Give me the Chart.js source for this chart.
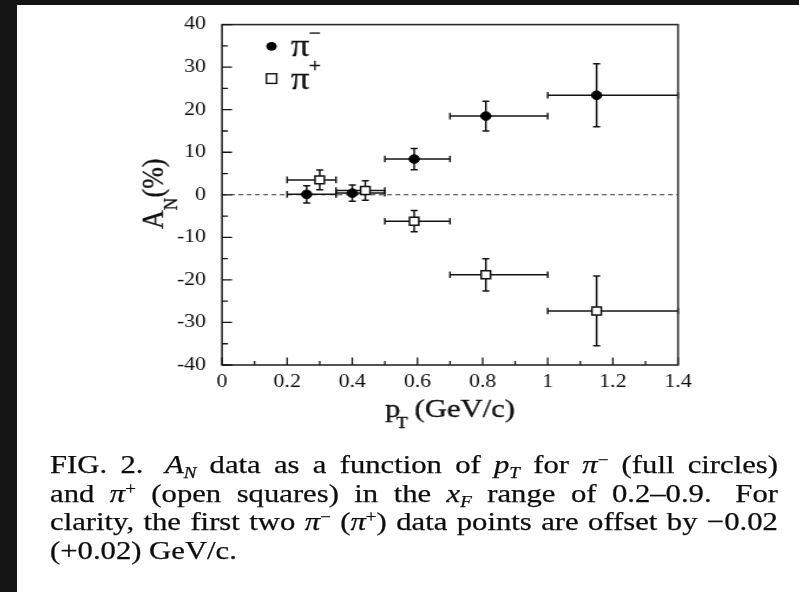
<!DOCTYPE html>
<html><head><meta charset="utf-8">
<script src="https://cdn.jsdelivr.net/npm/chart.js@4/dist/chart.umd.min.js"></script>
<style>
html,body{margin:0;padding:0;background:#141414;width:799px;height:592px;overflow:hidden;}
#panel{position:absolute;left:17px;top:5px;width:782px;height:587px;background:#fff;}
#stage{position:absolute;left:0;top:0;width:677px;height:592px;transform:scaleX(1.18);transform-origin:0 0;}
#c{position:absolute;left:0;top:0;width:677px;height:440px;}
.ln{position:absolute;left:42.4px;width:617px;display:flex;justify-content:space-between;align-items:baseline;
  font-family:"Liberation Serif","Times New Roman",Times,serif;font-size:26px;line-height:29px;color:#0d0d0d;white-space:nowrap;
  -webkit-text-stroke:0.25px #0d0d0d;}
.ln.left{justify-content:flex-start;gap:6.5px;}
.dbl{margin-right:7px;}
sub{font-size:0.62em;vertical-align:-0.28em;line-height:0;}
sup{font-size:0.62em;vertical-align:0.5em;line-height:0;}
</style></head>
<body>
<div id="panel"></div>
<div id="stage">
  <canvas id="c" width="677" height="440"></canvas>
  <div class="ln" style="top:450px"><span>FIG.</span><span class="dbl">2.</span><span><i>A</i><sub><i>N</i></sub></span><span>data</span><span>as</span><span>a</span><span>function</span><span>of</span><span><i>p</i><sub><i>T</i></sub></span><span>for</span><span><i>π</i><sup>−</sup></span><span>(full</span><span>circles)</span></div>
  <div class="ln" style="top:478.7px"><span>and</span><span><i>π</i><sup>+</sup></span><span>(open</span><span>squares)</span><span>in</span><span>the</span><span><i>x</i><sub><i>F</i></sub></span><span>range</span><span>of</span><span class="dbl">0.2–0.9.</span><span>For</span></div>
  <div class="ln" style="top:507.4px"><span>clarity,</span><span>the</span><span>first</span><span>two</span><span><i>π</i><sup>−</sup></span><span>(<i>π</i><sup>+</sup>)</span><span>data</span><span>points</span><span>are</span><span>offset</span><span>by</span><span>−0.02</span></div>
  <div class="ln left" style="top:536.1px"><span>(+0.02)</span><span>GeV/c.</span></div>
</div>
<script>
// ---- data ----
const binLow  = [0.2, 0.35, 0.5, 0.7, 1.0];
const binHigh = [0.35, 0.5, 0.7, 1.0, 1.4];
const piMinusX   = [0.26, 0.40, 0.59, 0.81, 1.15];
const piMinusY   = [0.1, 0.4, 8.4, 18.5, 23.4];
const piMinusErr = [2.0, 1.9, 2.5, 3.5, 7.4];
const piPlusX    = [0.30, 0.44, 0.59, 0.81, 1.15];
const piPlusY    = [3.5, 1.0, -6.2, -18.8, -27.3];
const piPlusErr  = [2.3, 2.3, 2.5, 3.8, 8.2];
const xTicks = [0, 0.2, 0.4, 0.6, 0.8, 1, 1.2, 1.4];
const yTicks = [-40, -30, -20, -10, 0, 10, 20, 30, 40];
const seriesBase   = ['π', 'π'];
const seriesCharge = ['−', '+'];

const FONT = '"Liberation Serif","Times New Roman",Times,serif';
const INK = '#141414';

function build(xs, ys, es) {
  return xs.map((x, i) => ({ x: x, y: ys[i], xMin: binLow[i], xMax: binHigh[i], yMin: ys[i] - es[i], yMax: ys[i] + es[i] }));
}

function heavyText(ctx, s, x, y) {
  ctx.fillText(s, x, y);
  ctx.lineWidth = 0.35; ctx.strokeStyle = ctx.fillStyle; ctx.strokeText(s, x, y);
}

const deco = {
  id: 'deco',
  beforeDatasetsDraw(chart) {
    const { ctx, chartArea: a, scales: { x, y } } = chart;
    ctx.save();
    const y0 = y.getPixelForValue(0);
    ctx.strokeStyle = '#333'; ctx.lineWidth = 1.1; ctx.setLineDash([4, 3]);
    ctx.beginPath(); ctx.moveTo(a.left, y0); ctx.lineTo(a.right, y0); ctx.stroke();
    ctx.setLineDash([]);
    chart.data.datasets.forEach(ds => {
      ctx.strokeStyle = INK; ctx.lineWidth = 1.5;
      ds.data.forEach(p => {
        const px = x.getPixelForValue(p.x), py = y.getPixelForValue(p.y);
        const xl = x.getPixelForValue(p.xMin), xr = x.getPixelForValue(p.xMax);
        const yt = y.getPixelForValue(p.yMax), yb = y.getPixelForValue(p.yMin);
        ctx.beginPath();
        ctx.moveTo(xl, py); ctx.lineTo(xr, py);
        ctx.moveTo(xl, py - 3.3); ctx.lineTo(xl, py + 3.3);
        ctx.moveTo(xr, py - 3.3); ctx.lineTo(xr, py + 3.3);
        ctx.moveTo(px, yt); ctx.lineTo(px, yb);
        ctx.moveTo(px - 3, yt); ctx.lineTo(px + 3, yt);
        ctx.moveTo(px - 3, yb); ctx.lineTo(px + 3, yb);
        ctx.stroke();
      });
    });
    ctx.restore();
  },
  afterDraw(chart) {
    const { ctx, chartArea: a, scales: { x, y } } = chart;
    ctx.save();
    // frame
    ctx.strokeStyle = '#2a2a2a'; ctx.lineWidth = 1.6;
    ctx.strokeRect(a.left, a.top, a.right - a.left, a.bottom - a.top);
    // inward ticks
    ctx.lineWidth = 1.3; ctx.strokeStyle = INK;
    ctx.beginPath();
    const yv = y.ticks.map(t => t.value);
    yv.forEach((v, i) => {
      const py = y.getPixelForValue(v);
      ctx.moveTo(a.left, py); ctx.lineTo(a.left + 8.5, py);
      if (i < yv.length - 1) {
        const pm = y.getPixelForValue((v + yv[i + 1]) / 2);
        ctx.moveTo(a.left, pm); ctx.lineTo(a.left + 5, pm);
      }
    });
    const xv = x.ticks.map(t => t.value);
    xv.forEach((v, i) => {
      const px = x.getPixelForValue(v);
      ctx.moveTo(px, a.bottom); ctx.lineTo(px, a.bottom - 7.5);
      if (i < xv.length - 1) {
        const pm = x.getPixelForValue((v + xv[i + 1]) / 2);
        ctx.moveTo(pm, a.bottom); ctx.lineTo(pm, a.bottom - 4);
      }
    });
    ctx.stroke();

    // legend
    const lx = a.left + 42, ly1 = a.top + 21.7, ly2 = a.top + 54;
    ctx.fillStyle = '#000';
    ctx.beginPath(); ctx.arc(lx, ly1, 4.4, 0, Math.PI * 2); ctx.fill();
    ctx.fillStyle = '#fff'; ctx.strokeStyle = '#111'; ctx.lineWidth = 1.4;
    ctx.fillRect(lx - 4.3, ly2 - 4.8, 8.6, 9.6); ctx.strokeRect(lx - 4.3, ly2 - 4.8, 8.6, 9.6);
    ctx.fillStyle = '#111'; ctx.textAlign = 'left'; ctx.textBaseline = 'alphabetic';
    [ly1, ly2].forEach((yy, i) => {
      ctx.font = '31px ' + FONT;
      const tx = lx + 16.5;
      heavyText(ctx, seriesBase[i], tx, yy + 10);
      const w = ctx.measureText(seriesBase[i]).width;
      ctx.font = '18px ' + FONT;
      heavyText(ctx, seriesCharge[i], tx + w - 0.5, yy + 10 - 17);
    });

    // y title  A_N(%)
    ctx.fillStyle = '#111';
    ctx.save();
    ctx.translate(138.1, 194);
    ctx.rotate(-Math.PI / 2);
    ctx.font = '26px ' + FONT; const wA = ctx.measureText('A').width, wP = ctx.measureText('(%)').width;
    ctx.font = '17px ' + FONT; const wN = ctx.measureText('N').width;
    let u = -(wA + wN + wP) / 2;
    ctx.font = '26px ' + FONT; heavyText(ctx, 'A', u, 0); u += wA;
    ctx.font = '17px ' + FONT; heavyText(ctx, 'N', u, 12); u += wN + 0.5;
    ctx.font = '26px ' + FONT; heavyText(ctx, '(%)', u, 0);
    ctx.restore();

    // x title  p_T (GeV/c)
    ctx.font = '26px ' + FONT;
    const wG = ctx.measureText('(GeV/c)').width;
    const gOff = 25;
    const total = gOff + wG;
    const x0 = (a.left + a.right) / 2 - total / 2, bl = 416.7;
    heavyText(ctx, 'p', x0, bl);
    heavyText(ctx, '(GeV/c)', x0 + gOff, bl);
    ctx.font = '16px ' + FONT;
    heavyText(ctx, 'T', x0 + 9.5, bl + 11.5);
    ctx.restore();
  }
};

new Chart(document.getElementById('c'), {
  type: 'scatter',
  data: {
    datasets: [
      { label: 'π−', data: build(piMinusX, piMinusY, piMinusErr), pointStyle: 'circle', pointRadius: 4.3,
        backgroundColor: '#000', borderColor: '#000', borderWidth: 1 },
      { label: 'π+', data: build(piPlusX, piPlusY, piPlusErr), pointStyle: 'rect', pointRadius: 5.6,
        backgroundColor: '#fff', borderColor: '#111', borderWidth: 1.5 }
    ]
  },
  options: {
    responsive: false, animation: false, devicePixelRatio: 1,
    layout: { padding: { left: 0, right: 102.4, top: 22, bottom: 0 } },
    plugins: { legend: { display: false }, tooltip: { enabled: false }, title: { display: false } },
    scales: {
      x: {
        type: 'linear', min: 0, max: 1.4,
        afterBuildTicks: s => { s.ticks = xTicks.map(v => ({ value: v })); },
        afterFit: s => { s.height = 75; },
        grid: { display: false, drawTicks: false }, border: { display: false },
        ticks: { padding: 6, color: '#0d0d0d', font: { family: FONT, size: 18.5 }, maxRotation: 0,
                 callback: v => String(+(+v).toFixed(1)) }
      },
      y: {
        type: 'linear', min: -40, max: 40,
        afterBuildTicks: s => { s.ticks = yTicks.map(v => ({ value: v })); },
        afterFit: s => { s.width = 188.1; },
        grid: { display: false, drawTicks: false }, border: { display: false },
        ticks: { padding: 13.5, color: '#0d0d0d', font: { family: FONT, size: 18.5 },
                 callback: v => String(+v) }
      }
    }
  },
  plugins: [deco]
});
</script>
</body></html>
